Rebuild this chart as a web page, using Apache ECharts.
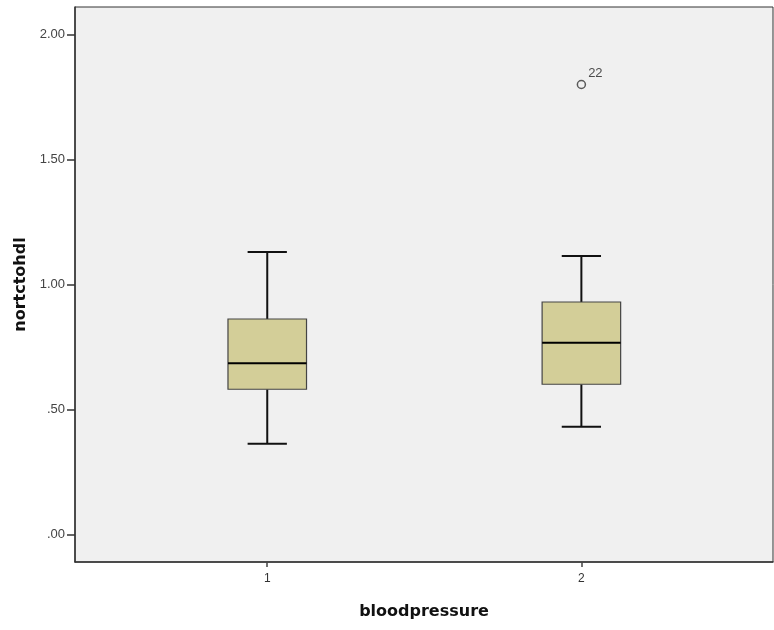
<!DOCTYPE html>
<html><head><meta charset="utf-8">
<script src="https://cdn.jsdelivr.net/npm/echarts@6/dist/echarts.min.js"></script>
<style>html,body{margin:0;padding:0;background:#fff}#c{width:774px;height:630px}</style>
</head><body><div id="c"></div>
<script>
const categories = [1, 2];
const mins = [0.363, 0.431];
const q1s = [0.581, 0.601];
const medians = [0.685, 0.767];
const q3s = [0.862, 0.930];
const maxs = [1.130, 1.114];
const outliers = [[2, 1.80, '22']];
const yTicks = [0, 0.5, 1, 1.5, 2];
const xTicks = [1, 2];

const boxData = categories.map((c, i) => [c, mins[i], q1s[i], medians[i], q3s[i], maxs[i]]);
const FONT = '"Liberation Sans", Arial, sans-serif';
const TFONT = '"DejaVu Sans", sans-serif';

function fmtY(v) {
  let s = Number(v).toFixed(2);
  if (s.startsWith('0')) s = s.slice(1);
  return s;
}

const chart = echarts.init(document.getElementById('c'), null, {renderer: 'canvas'});
chart.setOption({
  animation: false,
  backgroundColor: '#ffffff',
  grid: {left: 75, right: 1, top: 7, bottom: 68, outerBoundsMode: 'none', containLabel: false, show: true, backgroundColor: '#F0F0F0', borderColor: '#333', borderWidth: 1},
  xAxis: {
    type: 'value', min: 0.388, max: 2.61,
    name: 'bloodpressure', nameLocation: 'middle', nameGap: 42,
    nameTextStyle: {fontFamily: TFONT, fontWeight: 'bold', fontSize: 16, color: '#111'},
    axisLine: {show: true, onZero: false, lineStyle: {color: '#333', width: 1.5}},
    axisTick: {show: true, customValues: xTicks, length: 5, lineStyle: {color: '#444', width: 1.5}},
    axisLabel: {customValues: xTicks, fontFamily: FONT, fontSize: 12, color: '#333', margin: 11},
    splitLine: {show: false}
  },
  yAxis: {
    type: 'value', min: -0.11, max: 2.11,
    name: 'nortctohdl', nameLocation: 'middle', nameGap: 46, nameRotate: 90,
    nameTextStyle: {fontFamily: TFONT, fontWeight: 'bold', fontSize: 16, color: '#111'},
    axisLine: {show: true, onZero: false, lineStyle: {color: '#333', width: 1.5}},
    axisTick: {show: true, customValues: yTicks, length: 8, lineStyle: {color: '#333', width: 1.5}},
    axisLabel: {customValues: yTicks, formatter: fmtY, fontFamily: FONT, fontSize: 13, color: '#444', margin: 10},
    splitLine: {show: false}
  },
  series: [
    {
      type: 'custom',
      data: boxData,
      renderItem: function (params, api) {
        const x = api.value(0);
        const w = api.size([0.25, 0])[0];
        const cw = w / 2;
        const pMin = api.coord([x, api.value(1)]);
        const pQ1 = api.coord([x, api.value(2)]);
        const pMed = api.coord([x, api.value(3)]);
        const pQ3 = api.coord([x, api.value(4)]);
        const pMax = api.coord([x, api.value(5)]);
        const cx = pMin[0];
        return {
          type: 'group',
          children: [
            {type: 'line', shape: {x1: cx, y1: pMax[1], x2: cx, y2: pQ3[1]}, style: {stroke: '#111', lineWidth: 2}},
            {type: 'line', shape: {x1: cx, y1: pQ1[1], x2: cx, y2: pMin[1]}, style: {stroke: '#111', lineWidth: 2}},
            {type: 'line', shape: {x1: cx - cw / 2, y1: pMax[1], x2: cx + cw / 2, y2: pMax[1]}, style: {stroke: '#111', lineWidth: 2}},
            {type: 'line', shape: {x1: cx - cw / 2, y1: pMin[1], x2: cx + cw / 2, y2: pMin[1]}, style: {stroke: '#111', lineWidth: 2}},
            {type: 'rect', shape: {x: cx - w / 2, y: pQ3[1], width: w, height: pQ1[1] - pQ3[1]}, style: {fill: '#D3CE98', stroke: '#444', lineWidth: 1.2}},
            {type: 'line', shape: {x1: cx - w / 2, y1: pMed[1], x2: cx + w / 2, y2: pMed[1]}, style: {stroke: '#000', lineWidth: 2.2}}
          ]
        };
      }
    },
    {
      type: 'scatter',
      data: outliers.map(o => ({value: [o[0], o[1]], name: o[2]})),
      symbol: 'circle', symbolSize: 8,
      itemStyle: {color: '#F0F0F0', borderColor: '#333', borderWidth: 1.5},
      label: {show: true, formatter: p => p.name, position: 'right', offset: [0, -11], distance: 2, fontFamily: FONT, fontSize: 13, color: '#222'}
    }
  ]
});
</script></body></html>
